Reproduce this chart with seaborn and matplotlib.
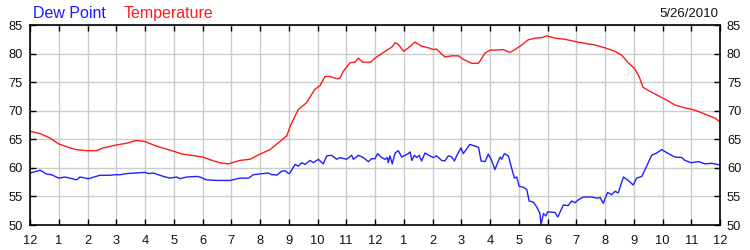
import matplotlib
matplotlib.use("Agg")
import matplotlib.pyplot as plt
import seaborn as sns
import pandas as pd

# ---- data (hours since midnight, degrees F) ----
temp_hours = [0, 0.35, 0.7, 1, 1.33, 1.6, 2, 2.3, 2.55, 3,
              3.35, 3.7, 4, 4.4, 5, 5.3, 5.6, 6, 6.4, 6.6,
              6.9, 7.3, 7.65, 8, 8.35, 8.64, 8.93, 9.06, 9.33, 9.62,
              9.9, 10.09, 10.26, 10.43, 10.67, 10.78, 10.9, 11.13, 11.3, 11.42,
              11.57, 11.85, 12.0, 12.35, 12.58, 12.7, 12.81, 13.0, 13.16, 13.39,
              13.62, 13.86, 14.03, 14.14, 14.43, 14.67, 14.9, 15.07, 15.36, 15.6,
              15.83, 16.0, 16.17, 16.46, 16.69, 16.87, 17.1, 17.33, 17.57, 17.8,
              17.97, 18.26, 18.61, 18.96, 19.3, 19.65, 20.0, 20.35, 20.58, 20.81,
              21.04, 21.2, 21.32, 21.6, 21.86, 22.2, 22.43, 22.78, 23.13, 23.48,
              23.83, 24.0]
temp_values = [66.4, 66.0, 65.2, 64.2, 63.6, 63.2, 63.0, 63.0, 63.5, 64.0,
               64.3, 64.8, 64.6, 63.8, 62.9, 62.4, 62.2, 61.9, 61.2, 60.9,
               60.7, 61.3, 61.5, 62.4, 63.2, 64.4, 65.6, 67.4, 70.2, 71.4,
               73.7, 74.4, 76.0, 76.0, 75.6, 75.7, 76.9, 78.4, 78.5, 79.2,
               78.5, 78.5, 79.2, 80.4, 81.1, 81.9, 81.6, 80.4, 81.0, 82.0,
               81.3, 81.0, 80.7, 80.8, 79.4, 79.6, 79.6, 79.0, 78.3, 78.3,
               80.1, 80.6, 80.6, 80.7, 80.2, 80.7, 81.5, 82.4, 82.7, 82.8,
               83.1, 82.7, 82.5, 82.1, 81.8, 81.5, 81.0, 80.4, 79.7, 78.4,
               77.3, 75.8, 74.1, 73.3, 72.6, 71.7, 71.0, 70.5, 70.1, 69.4,
               68.7, 68.0]

dew_hours = [0, 0.23, 0.35, 0.58, 0.75, 1.0, 1.22, 1.62, 1.74, 2.03,
             2.43, 2.78, 2.96, 3.13, 3.36, 3.71, 4.0, 4.12, 4.29, 4.64,
             4.87, 5.1, 5.22, 5.45, 5.8, 5.91, 6.14, 6.49, 6.84, 6.96,
             7.3, 7.6, 7.77, 8.12, 8.29, 8.41, 8.52, 8.58, 8.75, 8.87,
             8.99, 9.04, 9.22, 9.33, 9.45, 9.57, 9.74, 9.86, 10.03, 10.2,
             10.32, 10.49, 10.67, 10.78, 11.01, 11.19, 11.25, 11.42, 11.59, 11.77,
             11.88, 12.0, 12.09, 12.23, 12.35, 12.43, 12.46, 12.52, 12.6, 12.7,
             12.81, 12.93, 13.16, 13.22, 13.28, 13.37, 13.45, 13.54, 13.62, 13.74,
             13.91, 14.03, 14.14, 14.32, 14.43, 14.55, 14.67, 14.76, 14.84, 14.99,
             15.07, 15.3, 15.48, 15.6, 15.69, 15.83, 15.94, 16.04, 16.17, 16.35,
             16.41, 16.5, 16.64, 16.75, 16.85, 16.93, 17.01, 17.16, 17.28, 17.36,
             17.51, 17.62, 17.74, 17.77, 17.86, 17.94, 18.01, 18.26, 18.36, 18.55,
             18.72, 18.84, 18.96, 19.07, 19.25, 19.54, 19.71, 19.83, 19.94, 20.09,
             20.23, 20.35, 20.46, 20.64, 20.81, 20.98, 21.1, 21.28, 21.45, 21.62,
             21.8, 21.97, 22.2, 22.43, 22.67, 22.78, 23.0, 23.25, 23.48, 23.71,
             24.0]
dew_values = [59.1, 59.4, 59.6, 58.9, 58.8, 58.2, 58.4, 57.9, 58.4, 58.1,
              58.7, 58.7, 58.8, 58.8, 59.0, 59.1, 59.2, 59.0, 59.1, 58.5,
              58.2, 58.4, 58.1, 58.4, 58.5, 58.4, 57.9, 57.8, 57.8, 57.8,
              58.2, 58.2, 58.8, 59.0, 59.1, 58.8, 58.8, 58.7, 59.4, 59.5,
              59.0, 59.1, 60.6, 60.3, 60.9, 60.6, 61.3, 60.9, 61.5, 60.7,
              62.1, 62.2, 61.5, 61.8, 61.5, 62.2, 61.5, 62.2, 61.8, 61.1,
              61.6, 61.6, 62.5, 61.8, 61.5, 61.8, 60.9, 62.1, 60.7, 62.6,
              63.0, 61.9, 62.5, 62.8, 61.3, 62.2, 61.8, 62.2, 61.2, 62.6,
              62.1, 61.8, 62.1, 61.3, 61.2, 62.1, 61.9, 61.2, 62.1, 63.5,
              62.5, 64.1, 63.8, 63.6, 61.2, 61.1, 62.4, 61.5, 59.7, 61.9,
              61.5, 62.5, 62.1, 60.0, 58.2, 58.4, 56.8, 56.6, 56.2, 54.2,
              54.0, 53.2, 52.0, 50.0, 52.0, 51.6, 52.3, 52.2, 51.4, 53.5,
              53.4, 54.2, 53.9, 54.4, 54.9, 54.9, 54.7, 54.8, 53.8, 55.7,
              55.3, 55.9, 55.6, 58.4, 57.8, 57.0, 58.2, 58.5, 60.3, 62.2,
              62.6, 63.2, 62.5, 61.9, 61.8, 61.3, 60.9, 61.1, 60.7, 60.8,
              60.5]

hour_ticks = list(range(25))
hour_labels = ["12", "1", "2", "3", "4", "5", "6", "7", "8", "9", "10", "11",
               "12", "1", "2", "3", "4", "5", "6", "7", "8", "9", "10", "11", "12"]
y_ticks = [50, 55, 60, 65, 70, 75, 80, 85]
date_label = "5/26/2010"

df = pd.concat([
    pd.DataFrame({"hour": dew_hours, "value": dew_values, "series": "Dew Point"}),
    pd.DataFrame({"hour": temp_hours, "value": temp_values, "series": "Temperature"}),
], ignore_index=True)

sns.set_style("white")
plt.rcParams["font.family"] = ["Liberation Sans", "DejaVu Sans"]

fig = plt.figure(figsize=(7.5, 2.5), dpi=100)
ax = fig.add_axes([30 / 750, 25 / 250, 690 / 750, 200 / 250])

sns.lineplot(data=df, x="hour", y="value", hue="series",
             palette={"Dew Point": "#2020ff", "Temperature": "#ff1a1a"},
             linewidth=1.0, legend=False, ax=ax, estimator=None, sort=False)

ax.set_xlim(0, 24)
ax.set_ylim(50, 85)
ax.set_xticks(hour_ticks)
ax.set_xticklabels(hour_labels)
ax.set_yticks(y_ticks)
ax.set_xlabel("")
ax.set_ylabel("")
ax.grid(True, color="#cccccc", linewidth=1.0)
ax.set_axisbelow(True)
for s in ax.spines.values():
    s.set_color("black")
    s.set_linewidth(1.2)
ax.tick_params(axis="both", direction="in", length=4, width=1, color="black",
               labelsize=9.3, labelcolor="#111111", top=True, right=True,
               labelright=True, left=True, bottom=True)
ax.tick_params(axis="y", pad=5)
ax.tick_params(axis="x", pad=7)

fig.text(33 / 750, 1 - 18 / 250, "Dew Point", color="#1a1aff", fontsize=11.5,
         ha="left", va="baseline")
fig.text(124 / 750, 1 - 18 / 250, "Temperature", color="#ff1a1a", fontsize=11.5,
         ha="left", va="baseline")
fig.text(718 / 750, 1 - 17 / 250, date_label, color="#111111", fontsize=9.5,
         ha="right", va="baseline")

fig.savefig("out.png", dpi=100, facecolor="white")
